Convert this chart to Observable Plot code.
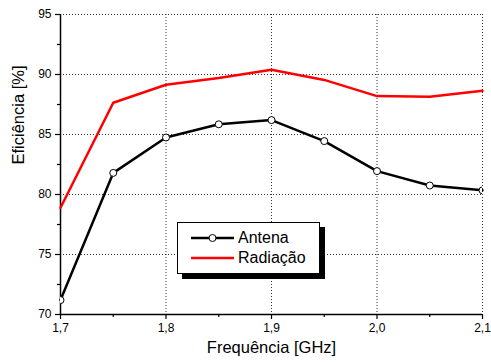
<!DOCTYPE html>
<html>
<head>
<meta charset="utf-8">
<script src="https://cdn.jsdelivr.net/npm/d3@7"></script>
<script src="https://cdn.jsdelivr.net/npm/@observablehq/plot@0.6"></script>
<style>
  body { margin: 0; background: #fff; font-family: "Liberation Sans", Arial, sans-serif; }
  #wrap { position: relative; width: 491px; height: 362px; }
  #legend { position: absolute; left: 177px; top: 222px; width: 141px; height: 50px; border: 1px solid #000; background: #fff; box-shadow: 5px 5px 0 #000; font-size: 16px; }
  .row { position: absolute; left: 13px; display: flex; align-items: center; }
  .row span { margin-left: 4px; }
</style>
</head>
<body>
<div id="wrap"></div>
<script>
const freq = [1.7, 1.75, 1.8, 1.85, 1.9, 1.95, 2.0, 2.05, 2.1];
const antena = [71.2, 81.8, 84.75, 85.85, 86.2, 84.45, 81.95, 80.75, 80.35];
const radiacao = [78.9, 87.65, 89.15, 89.7, 90.4, 89.55, 88.2, 88.15, 88.65];
const xMajor = [1.7, 1.8, 1.9, 2.0, 2.1];
const xMinor = [1.75, 1.85, 1.95, 2.05];
const yMajor = [70, 75, 80, 85, 90, 95];
const yMinor = [72.5, 77.5, 82.5, 87.5, 92.5];
const seriesNames = ["Antena", "Radiação"];
const xTitle = "Frequência [GHz]";
const yTitle = "Eficiência [%]";

const antData = freq.map((f, i) => ({f, v: antena[i]}));
const radData = freq.map((f, i) => ({f, v: radiacao[i]}));
const fmt = d => d3.format(".1f")(d).replace(".", ",");

const chart = Plot.plot({
  width: 491, height: 362,
  marginLeft: 60, marginRight: 9, marginTop: 14, marginBottom: 48,
  style: {fontFamily: '"Liberation Sans", Arial, sans-serif', fontSize: "12px", background: "#fff", color: "#000"},
  x: {domain: [1.7, 2.1], axis: null},
  y: {domain: [70, 95], axis: null},
  marks: [
    Plot.gridX(xMajor.slice(1), {stroke: "#333", strokeOpacity: 1, strokeDasharray: "1,2"}),
    Plot.gridY(yMajor.slice(1), {stroke: "#333", strokeOpacity: 1, strokeDasharray: "1,2"}),
    Plot.axisX({ticks: xMajor, tickFormat: fmt, tickSize: 5, tickPadding: 4, label: null, strokeWidth: 1.2}),
    Plot.axisX({ticks: xMinor, tickFormat: () => "", tickSize: 3, label: null, strokeWidth: 1.2}),
    Plot.axisY({ticks: yMajor, tickSize: 5, tickPadding: 4, label: null, strokeWidth: 1.2}),
    Plot.axisY({ticks: yMinor, tickFormat: () => "", tickSize: 3, label: null, strokeWidth: 1.2}),
    Plot.ruleX([1.7], {stroke: "#000", strokeWidth: 1.5}),
    Plot.ruleY([70], {stroke: "#000", strokeWidth: 1.5}),
    Plot.line(radData, {x: "f", y: "v", stroke: "#ff0000", strokeWidth: 2.5}),
    Plot.line(antData, {x: "f", y: "v", stroke: "#000", strokeWidth: 2.5}),
    Plot.dot(antData, {x: "f", y: "v", r: 3.5, fill: "#fff", stroke: "#000", strokeWidth: 1, clip: true}),
    Plot.text([xTitle], {frameAnchor: "bottom", dy: 38, fontSize: 16.5, fill: "#000"}),
    Plot.text([yTitle], {frameAnchor: "left", rotate: -90, dx: -42, fontSize: 16.5, fill: "#000"})
  ]
});
const wrap = document.getElementById("wrap");
wrap.appendChild(chart);

const legend = document.createElement("div");
legend.id = "legend";
legend.innerHTML = `
  <div class="row" style="top:6px"><svg width="43" height="10"><line x1="0" x2="43" y1="5" y2="5" stroke="#000" stroke-width="2.5"/><circle cx="21.5" cy="5" r="3.5" fill="#fff" stroke="#000"/></svg><span>${seriesNames[0]}</span></div>
  <div class="row" style="top:26px"><svg width="43" height="10"><line x1="0" x2="43" y1="5" y2="5" stroke="#ff0000" stroke-width="2.5"/></svg><span>${seriesNames[1]}</span></div>`;
wrap.appendChild(legend);
</script>
</body>
</html>
